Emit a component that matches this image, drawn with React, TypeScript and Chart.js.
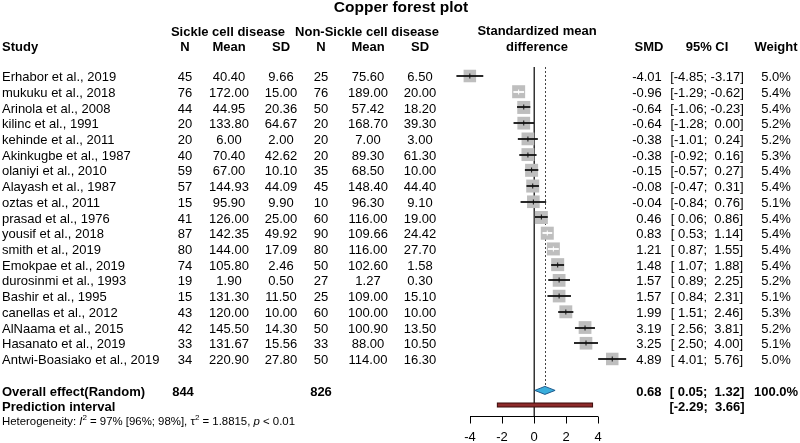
import React, { useEffect, useRef } from "react";
import { Chart, registerables } from "chart.js";
Chart.register(...registerables);

const studies = [
  "Erhabor et al., 2019", "mukuku et al., 2018", "Arinola et al., 2008", "kilinc et al., 1991",
  "kehinde et al., 2011", "Akinkugbe et al., 1987", "olaniyi et al., 2010", "Alayash et al., 1987",
  "oztas et al., 2011", "prasad et al., 1976", "yousif et al., 2018", "smith et al., 2019",
  "Emokpae et al., 2019", "durosinmi et al., 1993", "Bashir et al., 1995", "canellas et al., 2012",
  "AlNaama et al., 2015", "Hasanato et al., 2019", "Antwi-Boasiako et al., 2019",
];
const nSickle = [45, 76, 44, 20, 20, 40, 59, 57, 15, 41, 87, 80, 74, 19, 15, 43, 42, 33, 34];
const meanSickle = [40.4, 172.0, 44.95, 133.8, 6.0, 70.4, 67.0, 144.93, 95.9, 126.0, 142.35, 144.0, 105.8, 1.9, 131.3, 120.0, 145.5, 131.67, 220.9];
const sdSickle = [9.66, 15.0, 20.36, 64.67, 2.0, 42.62, 10.1, 44.09, 9.9, 25.0, 49.92, 17.09, 2.46, 0.5, 11.5, 10.0, 14.3, 15.56, 27.8];
const nControl = [25, 76, 50, 20, 20, 20, 35, 45, 10, 60, 90, 80, 50, 27, 25, 60, 50, 33, 50];
const meanControl = [75.6, 189.0, 57.42, 168.7, 7.0, 89.3, 68.5, 148.4, 96.3, 116.0, 109.66, 116.0, 102.6, 1.27, 109.0, 100.0, 100.9, 88.0, 114.0];
const sdControl = [6.5, 20.0, 18.2, 39.3, 3.0, 61.3, 10.0, 44.4, 9.1, 19.0, 24.42, 27.7, 1.58, 0.3, 15.1, 10.0, 13.5, 10.5, 16.3];
const smd = [-4.01, -0.96, -0.64, -0.64, -0.38, -0.38, -0.15, -0.08, -0.04, 0.46, 0.83, 1.21, 1.48, 1.57, 1.57, 1.99, 3.19, 3.25, 4.89];
const ciLow = [-4.85, -1.29, -1.06, -1.28, -1.01, -0.92, -0.57, -0.47, -0.84, 0.06, 0.53, 0.87, 1.07, 0.89, 0.84, 1.51, 2.56, 2.5, 4.01];
const ciHigh = [-3.17, -0.62, -0.23, 0.0, 0.24, 0.16, 0.27, 0.31, 0.76, 0.86, 1.14, 1.55, 1.88, 2.25, 2.31, 2.46, 3.81, 4.0, 5.76];
const weights = [5.0, 5.4, 5.4, 5.2, 5.2, 5.3, 5.4, 5.4, 5.1, 5.4, 5.4, 5.4, 5.4, 5.2, 5.1, 5.3, 5.2, 5.1, 5.0];

const overallN = [844, 826];
const overallEffect = [0.68, 0.05, 1.32];
const predictionInterval = [-2.29, 3.66];
const xTicks = [-4, -2, 0, 2, 4];

const FONT = '"Liberation Sans", Arial, Helvetica, sans-serif';

function pad(v: number) {
  return (v < 0 ? "" : " ") + v.toFixed(2);
}
function ciText(lo: number, hi: number) {
  return "[" + pad(lo) + "; " + pad(hi) + "]";
}

// layout: row 0 at 76px, 15.72px per row
const ROW0 = 76;
const ROWH = 15.72;
const H = 443;
const Y_MIN = -ROW0 / ROWH;
const Y_MAX = Y_MIN + H / ROWH;
const rowAt = (px: number) => (px - ROW0) / ROWH;

const COL = { study: 2, n1: 185, m1: 229, sd1: 281, n2: 321, m2: 368, sd2: 420, smd: 647, ci: 707, w: 776 };
const FS = 13;

const forestPlugin = {
  id: "forest",
  beforeDatasetsDraw(chart: any) {
    const ctx = chart.ctx;
    const xs = chart.scales.x;
    const ys = chart.scales.y;
    ctx.save();
    // zero line
    ctx.strokeStyle = "#333";
    ctx.lineWidth = 1.5;
    ctx.beginPath();
    const x0 = Math.round(xs.getPixelForValue(0)) + 0.25;
    ctx.moveTo(x0, ys.getPixelForValue(rowAt(67)));
    ctx.lineTo(x0, ys.getPixelForValue(rowAt(416)));
    ctx.stroke();
    // dotted overall line
    ctx.strokeStyle = "#444";
    ctx.lineWidth = 1;
    ctx.setLineDash([2, 2]);
    const xe = Math.round(xs.getPixelForValue(overallEffect[0])) + 0.5;
    ctx.beginPath();
    ctx.moveTo(xe, ys.getPixelForValue(rowAt(67)));
    ctx.lineTo(xe, ys.getPixelForValue(20) - 4);
    ctx.stroke();
    ctx.restore();
  },
  afterDatasetsDraw(chart: any) {
    const ctx = chart.ctx;
    const xs = chart.scales.x;
    const ys = chart.scales.y;
    const X = (v: number) => xs.getPixelForValue(v);
    const Y = (r: number) => ys.getPixelForValue(r);
    ctx.save();

    // CI lines
    smd.forEach((e, i) => {
      const y = Math.round(Y(i));
      const widthPx = X(ciHigh[i]) - X(ciLow[i]);
      ctx.strokeStyle = widthPx < 12 ? "#FFFFFF" : "#111111";
      ctx.lineWidth = 1.8;
      ctx.beginPath();
      ctx.moveTo(X(ciLow[i]), y);
      ctx.lineTo(X(ciHigh[i]), y);
      ctx.stroke();
      ctx.lineWidth = 1;
      ctx.beginPath();
      ctx.moveTo(X(e), y - 2.5);
      ctx.lineTo(X(e), y + 2.5);
      ctx.stroke();
    });

    // diamond
    const yd = Y(20);
    ctx.beginPath();
    ctx.moveTo(X(overallEffect[1]), yd);
    ctx.lineTo(X(overallEffect[0]), yd - 4);
    ctx.lineTo(X(overallEffect[2]), yd);
    ctx.lineTo(X(overallEffect[0]), yd + 4);
    ctx.closePath();
    ctx.fillStyle = "#3AAEDC";
    ctx.fill();
    ctx.strokeStyle = "#1E5A8C";
    ctx.lineWidth = 1;
    ctx.stroke();

    // prediction interval bar
    const yp = Y(rowAt(405));
    ctx.fillStyle = "#8E2B2B";
    ctx.fillRect(X(predictionInterval[0]), yp - 2, X(predictionInterval[1]) - X(predictionInterval[0]), 4);
    ctx.strokeStyle = "#3A0A0A";
    ctx.lineWidth = 1;
    ctx.strokeRect(X(predictionInterval[0]), yp - 2, X(predictionInterval[1]) - X(predictionInterval[0]), 4);

    // axis
    const ya = Math.round(Y(rowAt(416))) + 0.5;
    ctx.strokeStyle = "#000";
    ctx.lineWidth = 1;
    ctx.beginPath();
    ctx.moveTo(X(xTicks[0]), ya);
    ctx.lineTo(X(xTicks[xTicks.length - 1]), ya);
    xTicks.forEach((t) => {
      const xt = Math.round(X(t)) + 0.5;
      ctx.moveTo(xt, ya);
      ctx.lineTo(xt, ya + 7);
    });
    ctx.stroke();
    ctx.fillStyle = "#000";
    ctx.font = FS + "px " + FONT;
    ctx.textAlign = "center";
    ctx.textBaseline = "middle";
    xTicks.forEach((t) => ctx.fillText(String(t), X(t), Y(rowAt(437))));

    // texts
    const txt = (s: string, x: number, y: number, align: CanvasTextAlign, bold = false, size = FS) => {
      ctx.font = (bold ? "bold " : "") + size + "px " + FONT;
      ctx.textAlign = align;
      ctx.fillText(s, x, y);
    };
    ctx.fillStyle = "#000";
    txt("Copper forest plot", 401, Y(rowAt(8)), "center", true, 15.5);
    txt("Sickle cell disease", 228, Y(rowAt(32)), "center", true);
    txt("Non-Sickle cell disease", 367, Y(rowAt(32)), "center", true);
    txt("Standardized mean", 537, Y(rowAt(31)), "center", true);
    const yh = Y(rowAt(47));
    txt("Study", COL.study, yh, "left", true);
    txt("N", COL.n1, yh, "center", true);
    txt("Mean", COL.m1, yh, "center", true);
    txt("SD", COL.sd1, yh, "center", true);
    txt("N", COL.n2, yh, "center", true);
    txt("Mean", COL.m2, yh, "center", true);
    txt("SD", COL.sd2, yh, "center", true);
    txt("difference", 537, yh, "center", true);
    txt("SMD", 649, yh, "center", true);
    txt("95% CI", COL.ci, yh, "center", true);
    txt("Weight", COL.w, yh, "center", true);

    studies.forEach((s, i) => {
      const y = Y(i) + 1.5;
      txt(s, COL.study, y, "left");
      txt(String(nSickle[i]), COL.n1, y, "center");
      txt(meanSickle[i].toFixed(2), COL.m1, y, "center");
      txt(sdSickle[i].toFixed(2), COL.sd1, y, "center");
      txt(String(nControl[i]), COL.n2, y, "center");
      txt(meanControl[i].toFixed(2), COL.m2, y, "center");
      txt(sdControl[i].toFixed(2), COL.sd2, y, "center");
      txt(pad(smd[i]), COL.smd, y, "center");
      txt(ciText(ciLow[i], ciHigh[i]), COL.ci, y, "center");
      txt(weights[i].toFixed(1) + "%", COL.w, y, "center");
    });

    const yo = Y(rowAt(392));
    txt("Overall effect(Random)", COL.study, yo, "left", true);
    txt(String(overallN[0]), COL.n1 - 2, yo, "center", true);
    txt(String(overallN[1]), COL.n2, yo, "center", true);
    txt(pad(overallEffect[0]), COL.smd, yo, "center", true);
    txt(ciText(overallEffect[1], overallEffect[2]), COL.ci, yo, "center", true);
    txt("100.0%", COL.w, yo, "center", true);
    const ypi = Y(rowAt(407));
    txt("Prediction interval", COL.study, ypi, "left", true);
    txt(ciText(predictionInterval[0], predictionInterval[1]), COL.ci, ypi, "center", true);

    // heterogeneity with italics and superscripts
    const yhet = Y(rowAt(422));
    let cx = COL.study;
    const seg = (s: string, style: string, size: number, dy = 0) => {
      ctx.font = style + size + "px " + FONT;
      ctx.textAlign = "left";
      ctx.fillText(s, cx, yhet + dy);
      cx += ctx.measureText(s).width;
    };
    seg("Heterogeneity: ", "", 11.4);
    seg("I", "italic ", 11.4);
    seg("2", "", 8, -4.5);
    seg(" = 97% [96%; 98%], \u03C4", "", 11.4);
    seg("2", "", 8, -4.5);
    seg(" = 1.8815, ", "", 11.4);
    seg("p", "italic ", 11.4);
    seg(" < 0.01", "", 11.4);

    ctx.restore();
  },
};

export default function App() {
  const ref = useRef<HTMLCanvasElement | null>(null);
  useEffect(() => {
    if (!ref.current) return;
    const chart = new Chart(ref.current, {
      type: "scatter",
      data: {
        datasets: [
          {
            data: smd.map((v, i) => ({ x: v, y: i })),
            pointStyle: "rect",
            pointRadius: weights.map((w) => 9.2 * Math.sqrt(w / 5.4)),
            pointHoverRadius: weights.map((w) => 9.2 * Math.sqrt(w / 5.4)),
            backgroundColor: "#BEBEBE",
            borderColor: "#BEBEBE",
            borderWidth: 0,
            pointBorderWidth: 0,
            clip: false,
          } as any,
        ],
      },
      options: {
        animation: false,
        responsive: false,
        events: [],
        layout: { autoPadding: false, padding: { left: 438, right: 170, top: 0, bottom: 0 } },
        scales: {
          x: { type: "linear", display: false, min: -6, max: 6 },
          y: { type: "linear", display: false, reverse: true, min: Y_MIN, max: Y_MAX },
        },
        plugins: { legend: { display: false }, tooltip: { enabled: false } },
      },
      plugins: [forestPlugin],
    });
    return () => chart.destroy();
  }, []);
  return (
    <div style={{ position: "fixed", left: 0, top: 0, width: 800, height: 443, background: "#fff" }}>
      <canvas ref={ref} width={800} height={443} style={{ display: "block" }} />
    </div>
  );
}
